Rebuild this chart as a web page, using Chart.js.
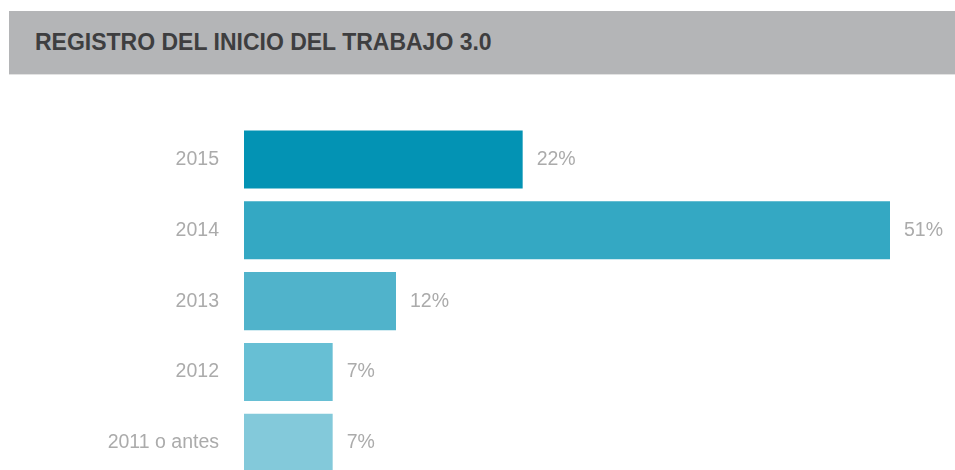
<!DOCTYPE html>
<html lang="es">
<head>
<meta charset="utf-8">
<title>Registro del inicio del trabajo 3.0</title>
<script src="https://cdn.jsdelivr.net/npm/chart.js@4.4.1/dist/chart.umd.min.js"></script>
<style>
    html, body {
        margin: 0;
        padding: 0;
        width: 955px;
        height: 470px;
        overflow: hidden;
        background: #ffffff;
        font-family: "Liberation Sans", Arial, sans-serif;
    }
    .header {
        position: absolute;
        top: 11px;
        left: 9px;
        right: 0;
        height: 63px;
        background: #b4b5b7;
        border-bottom: 1px solid #e2e2e2;
        z-index: 2;
    }
    .header h1 {
        margin: 0;
        padding-left: 26px;
        line-height: 63px;
        font-size: 23px;
        font-weight: bold;
        color: #3e3e40;
    }
    .chart-box {
        position: absolute;
        top: 0;
        left: 0;
        width: 955px;
        height: 515px;
    }
</style>
</head>
<body>
<div class="header"><h1>REGISTRO DEL INICIO DEL TRABAJO 3.0</h1></div>
<div class="chart-box"><canvas id="chart"></canvas></div>

<script>
const categories = ['2015', '2014', '2013', '2012', '2011 o antes'];
const shares = [22, 51, 12, 7, 7];
const barColors = ['#0393b4', '#34a8c3', '#50b3cb', '#67bfd4', '#83c9da'];

// percent label drawn just past the end of each bar
const valueLabels = {
    id: 'valueLabels',
    afterDatasetsDraw(chart) {
        const ctx = chart.ctx;
        const meta = chart.getDatasetMeta(0);
        ctx.save();
        ctx.font = '19.5px "Liberation Sans", Arial, sans-serif';
        ctx.fillStyle = '#ababab';
        ctx.textAlign = 'left';
        ctx.textBaseline = 'middle';
        meta.data.forEach((bar, i) => {
            ctx.fillText(shares[i] + '%', bar.x + 14, bar.y);
        });
        ctx.restore();
    }
};

const ctx = document.getElementById('chart').getContext('2d');
new Chart(ctx, {
    type: 'bar',
    data: {
        labels: categories,
        datasets: [{
            data: shares,
            backgroundColor: barColors,
            borderWidth: 0,
            categoryPercentage: 1,
            barPercentage: 0.82
        }]
    },
    options: {
        indexAxis: 'y',
        responsive: true,
        maintainAspectRatio: false,
        animation: false,
        layout: {
            padding: { top: 124, right: 65, bottom: 11, left: 0 }
        },
        plugins: {
            legend: { display: false },
            tooltip: { enabled: false }
        },
        scales: {
            x: {
                display: false,
                min: 0,
                max: 51
            },
            y: {
                grid: { display: false, drawTicks: false },
                border: { display: false },
                ticks: {
                    color: '#ababab',
                    padding: 25,
                    font: { family: '"Liberation Sans", Arial, sans-serif', size: 19.5 }
                },
                afterFit(scale) {
                    scale.width = 244;
                }
            }
        }
    },
    plugins: [valueLabels]
});
</script>
</body>
</html>
